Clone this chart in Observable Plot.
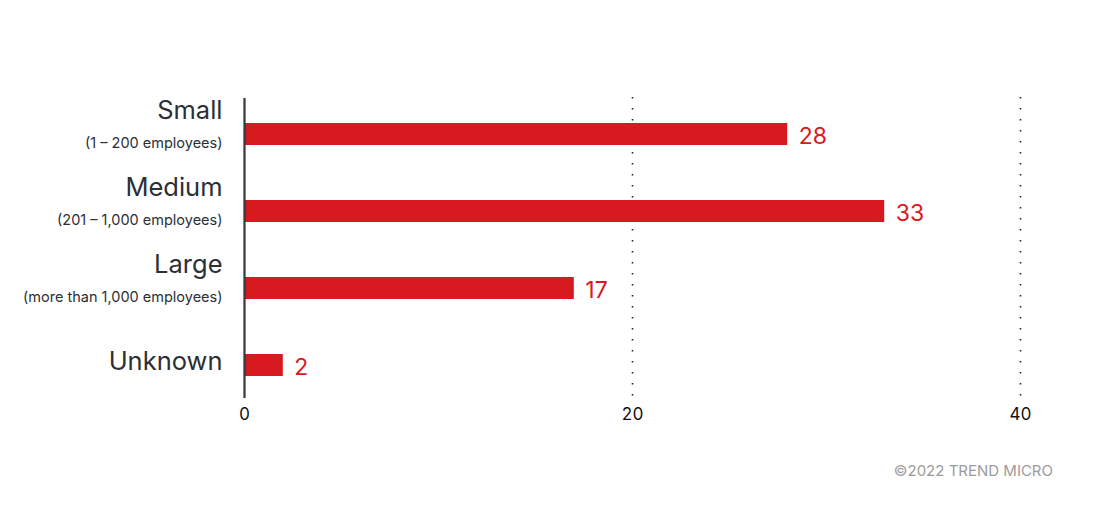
<!DOCTYPE html>
<html>
<head>
<meta charset="utf-8">
<script src="https://cdn.jsdelivr.net/npm/d3@7"></script>
<script src="https://cdn.jsdelivr.net/npm/@observablehq/plot@0.6"></script>
<style>
  html, body { margin: 0; padding: 0; background: #fff; }
  #chart { width: 1108px; }
  #caption {
    width: 1108px; box-sizing: border-box; padding-right: 55px;
    text-align: right; font-family: Inter, "Noto Sans", sans-serif;
    font-size: 15px; color: #9b9b9b; line-height: 18px; margin-top: 22px;
  }
</style>
</head>
<body>
<div id="chart"></div>
<div id="caption">©2022 TREND MICRO</div>
<script>
const categories = ["Small", "Medium", "Large", "Unknown"];
const subtitles = ["(1 – 200 employees)", "(201 – 1,000 employees)", "(more than 1,000 employees)", ""];
const values = [28, 33, 17, 2];
const xTicks = [0, 20, 40];

const data = categories.map((c, i) => ({category: c, subtitle: subtitles[i], value: values[i]}));
const font = "Inter, 'Noto Sans', sans-serif";
const red = "#d71920";

const chart = Plot.plot({
  width: 1108,
  height: 440,
  marginLeft: 244,
  marginRight: 88,
  marginTop: 94,
  marginBottom: 36,
  style: {fontFamily: font, background: "#fff"},
  x: {domain: [0, 40], ticks: xTicks, label: null},
  y: {domain: categories, paddingInner: 0.716, paddingOuter: 0.358, label: null},
  marks: [
    Plot.ruleX(xTicks.filter(d => d > 0), {stroke: "#222", strokeWidth: 1.6, strokeDasharray: "1.6,9.4", insetTop: 3, insetBottom: 6}),
    Plot.barX(data, {x: "value", y: "category", fill: red}),
    Plot.ruleX([0], {stroke: "#33373d", strokeWidth: 2.2, insetTop: 4, insetBottom: 6}),
    Plot.text(data, {x: "value", y: "category", text: d => String(d.value), fill: red, fontSize: 23, textAnchor: "start", dx: 11, dy: 2}),
    Plot.text(data.filter(d => d.subtitle), {x: 0, y: "category", text: "category", fill: "#2b2f36", fontSize: 25.5, textAnchor: "end", dx: -22, dy: -23.5}),
    Plot.text(data.filter(d => !d.subtitle), {x: 0, y: "category", text: "category", fill: "#2b2f36", fontSize: 25.5, textAnchor: "end", dx: -22, dy: -4}),
    Plot.text(data.filter(d => d.subtitle), {x: 0, y: "category", text: "subtitle", fill: "#2b2f36", fontSize: 14.5, textAnchor: "end", dx: -22, dy: 9}),
    Plot.axisX({ticks: xTicks, tickSize: 0, tickPadding: 3, fontSize: 17, fill: "#111", label: null}),
    Plot.axisY({ticks: [], label: null})
  ]
});
document.getElementById("chart").appendChild(chart);
</script>
</body>
</html>
